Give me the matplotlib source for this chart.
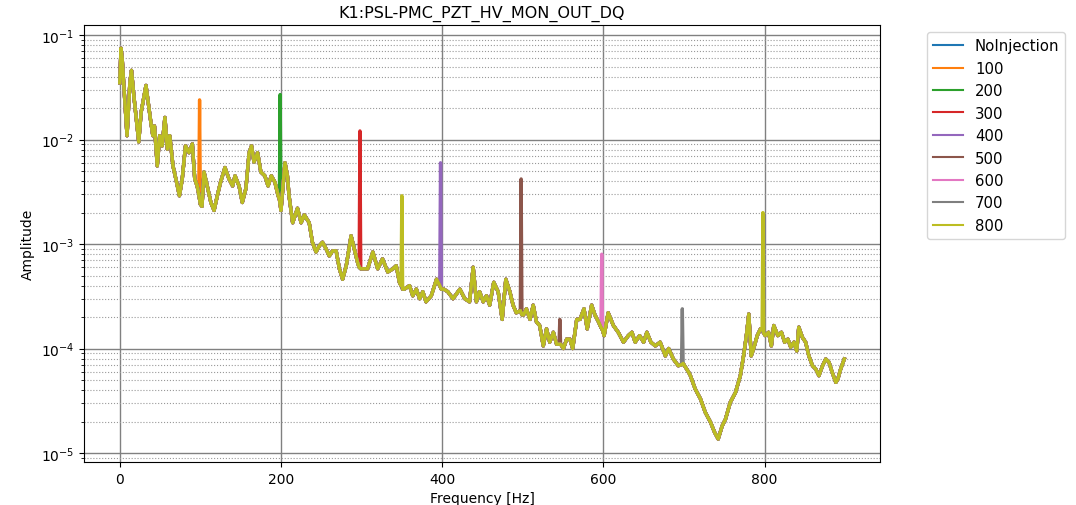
import numpy as np
import matplotlib
matplotlib.use('Agg')
import matplotlib.pyplot as plt

# baseline spectrum (Hz, amplitude)
base_freq = [0, 1.5, 3, 5, 9, 12.5, 14.5, 17.5, 20.5, 23.5, 26.5, 30, 32.5, 35, 38, 41, 43, 46.5, 49.5, 52.5,
             56, 59, 62, 66, 70.5, 74, 77.5, 81.5, 86, 90, 93, 96, 98, 100, 102, 104.5, 108.5, 113, 117, 121,
             125, 130.5, 135.5, 140, 143, 148, 152, 156.5, 160.5, 163.5, 166.5, 171, 175, 180, 184, 188, 192.5, 196.5, 198, 200,
             202.5, 205, 208, 210, 214.5, 220.5, 225, 229, 235, 239, 243.5, 247.5, 251.5, 256, 260, 264, 268.5, 272.5, 276.5, 281,
             287, 291, 295, 297, 299, 302, 307.5, 314, 320, 326, 332.5, 339, 343, 347, 349, 351, 353, 359.5, 363.5, 368,
             372, 376, 380, 386.5, 393, 397, 399, 402, 407, 413.5, 422, 428, 434, 438.5, 442.5, 446.5, 451, 455, 459, 464,
             469.5, 474.5, 479, 484, 488, 492, 497, 499, 501, 504.5, 509, 513, 517, 521, 525.5, 529.5, 533.5, 538, 542, 545,
             547, 550.5, 554.5, 558.5, 562, 567, 571, 576, 580, 585.5, 589.5, 594, 597, 599, 601, 606, 612.5, 618.5, 625, 631,
             635.5, 639.5, 645, 650, 654, 659, 664.5, 670.5, 677, 681, 687, 693, 697, 699, 701, 706, 708, 714, 720.5, 726.5,
             733, 738, 742.5, 747.5, 751.5, 757.5, 764, 770, 774, 777.5, 780.5, 783.5, 786.5, 791, 795, 797, 799, 801, 805, 808.5,
             811.5, 816.5, 821, 825, 829, 832.5, 836.5, 840, 842.5, 847, 851, 855, 859.5, 863.5, 867.5, 872, 876, 880, 884, 888.5,
             891, 894.5, 899]
base_amp = [0.035, 0.075, 0.059, 0.033, 0.0109, 0.035, 0.046, 0.026, 0.0157, 0.0095, 0.0183, 0.026, 0.033, 0.0235, 0.0157, 0.0109, 0.0135, 0.0056, 0.0109, 0.0087,
            0.0163, 0.0081, 0.0109, 0.0056, 0.0039, 0.0029, 0.0042, 0.0087, 0.0075, 0.0091, 0.0042, 0.0036, 0.0030, 0.0024, 0.0023, 0.0049, 0.0036, 0.0025, 0.0021, 0.0029,
            0.0039, 0.0054, 0.0042, 0.0036, 0.0045, 0.0036, 0.0025, 0.0034, 0.0075, 0.0087, 0.0061, 0.0075, 0.0049, 0.0045, 0.0036, 0.0045, 0.0039, 0.0029, 0.0027, 0.0021,
            0.0035, 0.0060, 0.0045, 0.0029, 0.0016, 0.0022, 0.0016, 0.0019, 0.0016, 0.00104, 0.00084, 0.00096, 0.00104, 0.0009, 0.00077, 0.00086, 0.00086, 0.00058, 0.00046, 0.00062,
            0.0012, 0.0009, 0.00067, 0.0006, 0.00058, 0.00058, 0.00058, 0.00084, 0.00058, 0.00072, 0.00054, 0.00058, 0.00062, 0.00043, 0.0004, 0.00037, 0.00037, 0.0004, 0.00032, 0.00037,
            0.0003, 0.00035, 0.00028, 0.00032, 0.00046, 0.0004, 0.00037, 0.00037, 0.00035, 0.0003, 0.00037, 0.0003, 0.00028, 0.0006, 0.00028, 0.00035, 0.00028, 0.00032, 0.00026, 0.00043,
            0.00035, 0.00019, 0.00046, 0.00035, 0.00026, 0.00022, 0.00023, 0.00021, 0.00021, 0.00024, 0.00019, 0.00026, 0.00018, 0.000166, 0.000106, 0.000154, 0.000115, 0.000143, 0.00011, 0.00011,
            0.00011, 0.0001, 0.000123, 0.000123, 0.0001, 0.00019, 0.00019, 0.00024, 0.000154, 0.00026, 0.00021, 0.00018, 0.00016, 0.00015, 0.000133, 0.00022, 0.000166, 0.000143, 0.000115, 0.000133,
            0.000143, 0.000115, 0.000133, 0.000115, 0.000143, 0.000115, 0.000106, 0.000115, 0.000085, 0.0001, 0.000079, 0.0000685, 0.00007, 0.000072, 0.000068, 0.000059, 0.000055, 0.000041, 0.000033, 0.0000245,
            0.0000197, 0.0000158, 0.0000136, 0.0000182, 0.000021, 0.0000305, 0.000038, 0.000055, 0.000085, 0.000133, 0.000214, 0.000085, 0.0001, 0.000133, 0.000154, 0.00015, 0.00014, 0.000133, 0.000143, 0.000106,
            0.000166, 0.000133, 0.000143, 0.000115, 0.000123, 0.000103, 0.000115, 0.0000947, 0.00016, 0.000128, 0.000115, 0.000085, 0.0000685, 0.0000637, 0.000055, 0.0000685, 0.0000794, 0.000074, 0.000059, 0.0000474,
            0.000051, 0.0000637, 0.0000794]

labels = ['NoInjection', '100', '200', '300', '400', '500', '600', '700', '800']

# injection lines per series (Hz, peak amplitude)
spike_freq = [[], [99], [199], [298], [398], [498, 546], [598], [698], [350, 798]]
spike_amp = [[], [0.024], [0.027], [0.0121], [0.006], [0.0042, 0.00019], [0.0008], [0.00024], [0.0029, 0.002]]

fig = plt.figure(figsize=(10.76, 5.06), dpi=100)
ax = fig.add_subplot(111)
fig.subplots_adjust(left=0.078, right=0.818, top=0.9486, bottom=0.085)

for i, lab in enumerate(labels):
    f = np.array(base_freq + spike_freq[i], dtype=float)
    a = np.array(base_amp + spike_amp[i], dtype=float)
    order = np.argsort(f, kind='stable')
    # overlapping traces look like one thick band in the original
    ax.plot(f[order], a[order], label=lab, linewidth=2.4)

ax.set_yscale('log')
ax.set_xlim(-44.5, 943.5)
ax.set_ylim(8.2e-6, 0.125)
ax.grid(which='major', color='gray', linestyle='-', linewidth=1)
ax.grid(which='minor', axis='y', color='0.6', linestyle=':', linewidth=0.8)
ax.set_xlabel('Frequency [Hz]')
ax.set_ylabel('Amplitude')
ax.set_title('K1:PSL-PMC_PZT_HV_MON_OUT_DQ', fontsize=11.5)
leg = ax.legend(bbox_to_anchor=(1.05, 1), loc='upper left', fontsize=10.7)
for line in leg.get_lines():
    line.set_linewidth(1.5)

plt.savefig('out.png', dpi=100)
